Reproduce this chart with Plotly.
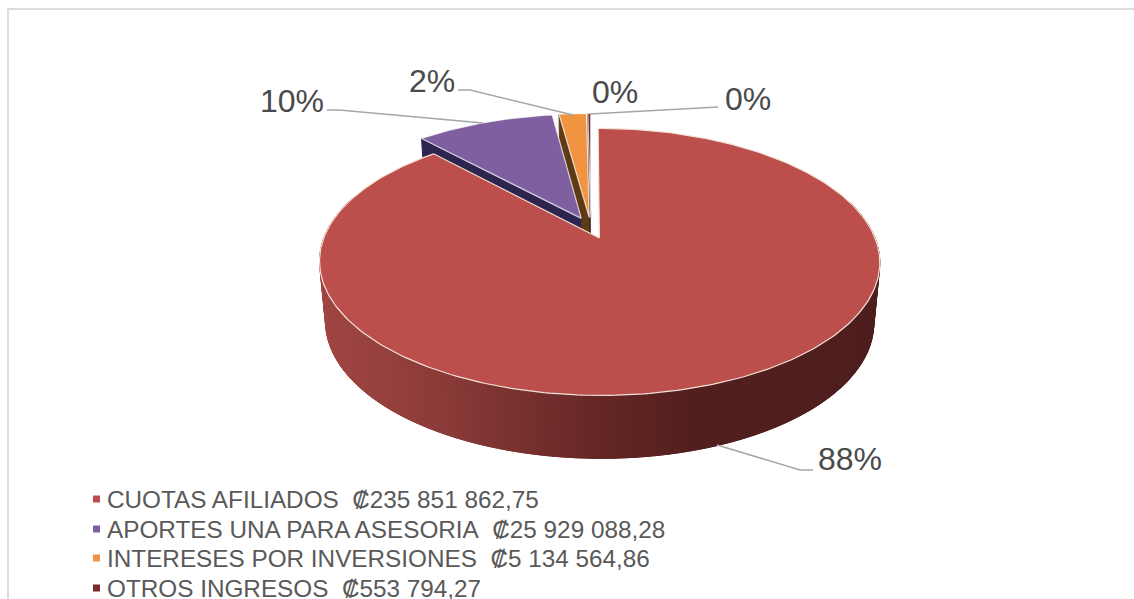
import numpy as np
import plotly.graph_objs as go

# data
categories = ["CUOTAS AFILIADOS", "APORTES UNA PARA ASESORIA", "INTERESES POR INVERSIONES", "OTROS INGRESOS"]
values = [235851862.75, 25929088.28, 5134564.86, 553794.27]
amounts = ["₡235 851 862,75", "₡25 929 088,28", "₡5 134 564,86", "₡553 794,27"]
top_colors = ["#bc4f4c", "#7f5f9f", "#f09442", "#772c2a"]
side_colors = ["#652725", "#2d2550", "#5e3a15", "#3a1412"]
extra_label = "0%"  # label of a slice too thin to see, its legend line is cut off

# pie geometry, in page pixels
WIDTH, HEIGHT = 1134, 599
OX, OY = 590.9, 227.9
RADIUS, SQUASH, PERSP = 271.8, 125.7, 0.176
EXPLODE = 0.085
SHRINK_X, SHRINK_Y = 274 / 280, 136 / 133.5
TOP_CY, BOTTOM_CY = 261.5, 322

TEXT_GREY = "#595959"
LABEL_GREY = "#4a4a4a"
LEADER_GREY = "#a6a6a6"
FONT = "Liberation Sans, Arial, sans-serif"


def project(px, py):
    w = 1 + PERSP * py
    return OX + RADIUS * px / w, OY - SQUASH * py / w


def to_bottom(sx, sy):
    cx = OX + 8.5
    return cx + SHRINK_X * (sx - cx), BOTTOM_CY + SHRINK_Y * (sy - TOP_CY)


def wall_color(x):
    # shading of the front wall, light on the left and dark on the right
    stops_x = [325, 450, 600, 700, 880]
    stops = [(160, 70, 67), (138, 59, 56), (101, 39, 37), (82, 31, 30), (78, 31, 30)]
    rgb = [int(np.interp(x, stops_x, [s[i] for s in stops])) for i in range(3)]
    return "rgb(%d,%d,%d)" % tuple(rgb)


def poly(fig, xs, ys, fill, line=None, width=1, name=None):
    fig.add_trace(go.Scatter(
        x=list(xs), y=list(ys), mode="lines", fill="toself", fillcolor=fill,
        line=dict(color=line or fill, width=width), showlegend=False,
        hoverinfo="skip" if name is None else "name", name=name or ""
    ))


fig = go.Figure()

total = sum(values)
angles = np.cumsum([0] + [v / total * 2 * np.pi for v in values])

# small slices first so the big one sits on top of them
for i in [3, 2, 1, 0]:
    a0, a1 = angles[i], angles[i + 1]
    mid = (a0 + a1) / 2
    dx, dy = EXPLODE * np.sin(mid), EXPLODE * np.cos(mid)
    n = max(int((a1 - a0) * 60), 2)
    arc = np.linspace(a0, a1, n)
    ax, ay = project(dx + np.sin(arc), dy + np.cos(arc))
    cx, cy = project(dx, dy)

    if i == 0:
        # outer wall as strips, each one runs under the next so no seam shows
        bx, by = to_bottom(ax, ay)
        for j in range(n - 1):
            if np.cos(arc[j]) > 0.3:
                continue
            k = min(j + 4, n - 1)
            xs = list(ax[j:k + 1]) + list(bx[j:k + 1])[::-1]
            ys = list(ay[j:k + 1]) + list(by[j:k + 1])[::-1]
            poly(fig, xs + xs[:1], ys + ys[:1], wall_color(ax[j]), width=0.5)
    else:
        # cut face on the start edge
        bcx, bcy = to_bottom(cx, cy)
        bax, bay = to_bottom(ax[0], ay[0])
        poly(fig, [cx, ax[0], bax, bcx], [cy, ay[0], bay, bcy], side_colors[i])

    line = "#f3e2d8" if i == 0 else "rgba(255,255,255,0.75)"
    poly(fig, [cx] + list(ax) + [cx], [cy] + list(ay) + [cy], top_colors[i], line=line, width=1.2,
         name=categories[i])

# leader lines
leaders = [
    ([327, 339, 483], [110, 110, 123]),
    ([458, 470, 573], [90, 90, 115]),
    ([718, 590], [107, 114]),
    ([813, 800, 717], [470, 470, 445]),
]
for lx, ly in leaders:
    fig.add_trace(go.Scatter(x=lx, y=ly, mode="lines", hoverinfo="skip", showlegend=False,
                             line=dict(color=LEADER_GREY, width=1.5)))

# percent labels
percents = ["%d%%" % round(v / total * 100) for v in values]
label_pos = [(850, 459), (292, 101), (431.5, 81), (747.5, 99)]
for text, (lx, ly) in zip(percents, label_pos):
    fig.add_annotation(x=lx, y=ly, text=text, showarrow=False, xanchor="center", yanchor="middle",
                       font=dict(family=FONT, size=32, color=LABEL_GREY))
fig.add_annotation(x=614.5, y=92, text=extra_label, showarrow=False, xanchor="center", yanchor="middle",
                   font=dict(family=FONT, size=32, color=LABEL_GREY))

# legend, drawn by hand because the real one would scroll
LEGEND_Y = [499, 529, 558, 588]
fig.add_trace(go.Scatter(x=[96.5] * len(categories), y=LEGEND_Y, mode="markers", showlegend=False,
                         hoverinfo="skip",
                         marker=dict(symbol="square", size=7, color=top_colors)))
for cat, amount, ly in zip(categories, amounts, LEGEND_Y):
    fig.add_annotation(x=105, y=ly, text=cat + "\u00a0\u00a0" + amount, showarrow=False,
                       xanchor="left", yanchor="middle",
                       font=dict(family=FONT, size=24.3, color=TEXT_GREY))

fig.update_layout(
    width=WIDTH, height=HEIGHT,
    margin=dict(l=0, r=0, t=0, b=0),
    paper_bgcolor="white", plot_bgcolor="white",
    xaxis=dict(range=[0, WIDTH], visible=False, fixedrange=True),
    yaxis=dict(range=[HEIGHT, 0], visible=False, fixedrange=True),
    showlegend=False,
    # chart frame, open on the right and at the bottom
    shapes=[
        dict(type="line", xref="x", yref="y", x0=8, x1=8, y0=8, y1=HEIGHT,
             line=dict(color="#dcdcdc", width=2)),
        dict(type="line", xref="x", yref="y", x0=7, x1=WIDTH, y0=9, y1=9,
             line=dict(color="#dcdcdc", width=2)),
    ],
)

# the page's default body margin would push everything 8px in
fig.write_html("out.html", config=dict(displayModeBar=False),
               post_script="document.body.style.margin='0';document.documentElement.style.overflow='hidden';")
